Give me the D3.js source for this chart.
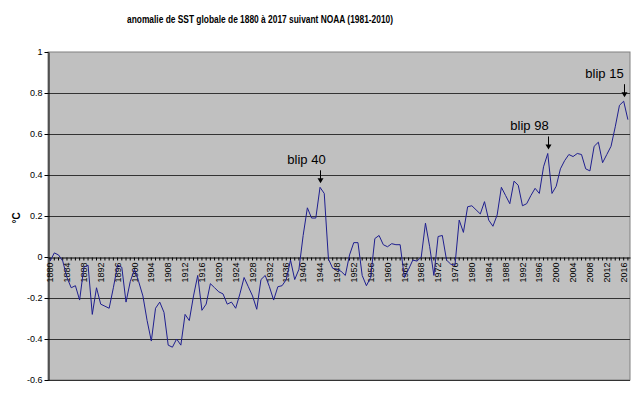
<!DOCTYPE html>
<html>
<head>
<meta charset="utf-8">
<script src="https://cdn.jsdelivr.net/npm/d3@7"></script>
<style>
  body { margin: 0; background: #fff; }
  svg text { font-family: "Liberation Sans", Arial, sans-serif; }
</style>
</head>
<body>
<div id="chart"></div>
<script>
// years 1880..2017
var years = d3.range(1880, 2018);
// SST anomaly (°C), NOAA, base 1981-2010
var anomaly = [
  -0.02, 0.02, 0.01, -0.02, -0.10, -0.15, -0.14, -0.21, -0.05, -0.04,
  -0.28, -0.15, -0.23, -0.24, -0.25, -0.15, -0.04, -0.05, -0.22, -0.12,
  -0.06, -0.12, -0.19, -0.31, -0.41, -0.25, -0.22, -0.27, -0.43, -0.44,
  -0.40, -0.43, -0.28, -0.31, -0.19, -0.09, -0.26, -0.23, -0.13, -0.15,
  -0.17, -0.18, -0.23, -0.22, -0.25, -0.18, -0.10, -0.145, -0.19, -0.255,
  -0.11, -0.09, -0.145, -0.21, -0.145, -0.14, -0.11, -0.015, -0.11, -0.06,
  0.105, 0.24, 0.19, 0.19, 0.34, 0.31, -0.01, -0.055, -0.06, -0.07,
  -0.09, 0.01, 0.07, 0.07, -0.09, -0.14, -0.10, 0.09, 0.105, 0.06,
  0.05, 0.065, 0.06, 0.06, -0.10, -0.06, -0.015, -0.02, 0.00, 0.165,
  0.05, -0.09, 0.10, 0.105, -0.015, -0.035, -0.04, 0.18, 0.12, 0.245,
  0.25, 0.23, 0.21, 0.27, 0.18, 0.15, 0.205, 0.34, 0.30, 0.26,
  0.37, 0.35, 0.25, 0.26, 0.30, 0.335, 0.31, 0.44, 0.505, 0.31,
  0.345, 0.43, 0.47, 0.50, 0.49, 0.505, 0.50, 0.43, 0.42, 0.54,
  0.56, 0.46, 0.50, 0.54, 0.635, 0.74, 0.76, 0.67
];
var yTicks = [-0.6, -0.4, -0.2, 0, 0.2, 0.4, 0.6, 0.8, 1];
var yTickLabels = ["-0.6", "-0.4", "-0.2", "0", "0.2", "0.4", "0.6", "0.8", "1"];
var blipLabels = ["blip 40", "blip 98", "blip 15"];
var blipYears = [1944, 1998, 2016];

var title = "anomalie de SST globale de 1880 à 2017 suivant NOAA (1981-2010)";

var width = 640, height = 398;
var margin = {top: 52, right: 10, bottom: 18, left: 48};
// horizontal shift of each annotation label vs its arrow
var blipShift = [-14, -19, -20];

var svg = d3.select("#chart").append("svg")
  .attr("width", width)
  .attr("height", height);

var x = d3.scaleBand()
  .domain(years)
  .range([margin.left, width - margin.right]);

var y = d3.scaleLinear()
  .domain([-0.6, 1])
  .range([height - margin.bottom, margin.top]);

var cx = function(yr) { return x(yr) + x.bandwidth() / 2; };

// plot area
svg.append("rect")
  .attr("x", margin.left)
  .attr("y", margin.top)
  .attr("width", width - margin.right - margin.left)
  .attr("height", y(-0.6) - margin.top)
  .attr("fill", "#c0c0c0")
  .attr("stroke", "#808080")
  .attr("stroke-width", 1);

// gridlines
svg.append("g")
  .selectAll("line")
  .data(yTicks.filter(function(d) { return d !== 1 && d !== 0; }))
  .enter()
  .append("line")
  .attr("x1", margin.left)
  .attr("x2", width - margin.right)
  .attr("y1", function(d) { return Math.round(y(d)) + 0.5; })
  .attr("y2", function(d) { return Math.round(y(d)) + 0.5; })
  .attr("stroke", "#333")
  .attr("stroke-width", 1);

// Y axis
var yAxis = svg.append("g")
  .attr("transform", "translate(" + (margin.left + 0.5) + ",0)")
  .call(d3.axisLeft(y)
    .tickValues(yTicks)
    .tickSize(4)
    .tickSizeOuter(0)
    .tickFormat(function(d, i) { return yTickLabels[i]; }));
yAxis.select(".domain").attr("stroke", "#000");
yAxis.selectAll(".tick line").attr("stroke", "#000");
yAxis.selectAll("text")
  .attr("font-size", "9px")
  .attr("fill", "#000")
  .attr("x", -6);

// X axis on y = 0
var xAxis = svg.append("g")
  .attr("transform", "translate(0," + (Math.round(y(0)) + 0.5) + ")")
  .call(d3.axisBottom(x)
    .tickValues(years)
    .tickSize(3)
    .tickSizeOuter(0)
    .tickFormat(function(d) { return (d - 1880) % 4 === 0 ? d : ""; }));
xAxis.select(".domain").attr("stroke", "#000");
xAxis.selectAll(".tick line").attr("stroke", "#000");
xAxis.selectAll("text")
  .attr("font-size", "9px")
  .attr("fill", "#000")
  .attr("transform", "rotate(-90)")
  .attr("text-anchor", "end")
  .attr("x", -5)
  .attr("y", 0)
  .attr("dy", "0.35em");

// series line
var line = d3.line()
  .x(function(d, i) { return cx(years[i]); })
  .y(function(d) { return y(d); });

svg.append("path")
  .datum(anomaly)
  .attr("d", line)
  .attr("fill", "none")
  .attr("stroke", "#1f1f8f")
  .attr("stroke-width", 1);

// annotations
blipYears.forEach(function(yr, i) {
  var v = anomaly[years.indexOf(yr)];
  var tipY = y(v) - 4;
  var ax = Math.round(cx(yr)) + 0.5;
  svg.append("line")
    .attr("x1", ax).attr("x2", ax)
    .attr("y1", tipY - 13).attr("y2", tipY - 3)
    .attr("stroke", "#000").attr("stroke-width", 1);
  svg.append("path")
    .attr("d", "M" + (ax - 3) + "," + (tipY - 5) + "L" + (ax + 3) + "," + (tipY - 5) + "L" + ax + "," + tipY + "Z")
    .attr("fill", "#000");
  svg.append("text")
    .attr("x", ax + blipShift[i])
    .attr("y", tipY - 19)
    .attr("text-anchor", "middle")
    .attr("font-size", "13px")
    .attr("fill", "#000")
    .text(blipLabels[i]);
});

// title
svg.append("text")
  .attr("x", 260)
  .attr("y", 23)
  .attr("text-anchor", "middle")
  .attr("font-size", "10.5px")
  .attr("font-weight", "bold")
  .attr("textLength", 266)
  .attr("lengthAdjust", "spacingAndGlyphs")
  .text(title);

// y axis title
svg.append("text")
  .attr("transform", "translate(20,218) rotate(-90)")
  .attr("text-anchor", "middle")
  .attr("font-size", "10px")
  .attr("font-weight", "bold")
  .text("°C");
</script>
</body>
</html>
